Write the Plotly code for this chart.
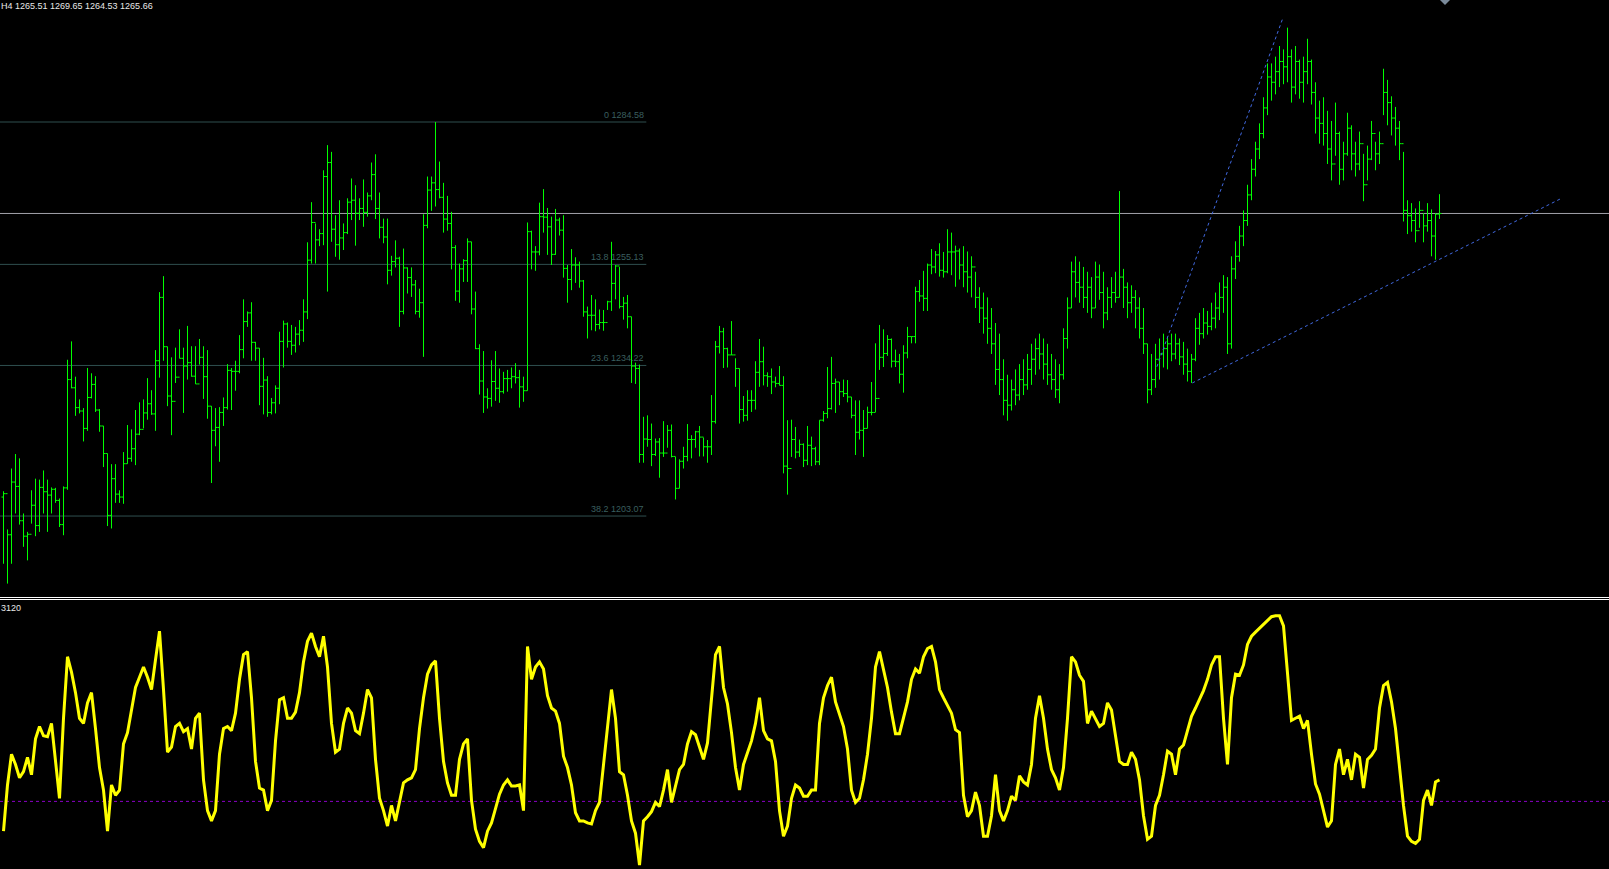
import plotly.graph_objects as go

# ---------------- data (H4 bars) ----------------
highs = [
1208.2,1200.3,1212.9,1215.9,1215.0,1203.6,1199.8,1208.4,1210.8,1210.6,
1212.5,1210.6,1209.0,1208.9,1206.7,1209.2,1235.4,1239.2,1231.9,1227.2,
1225.4,1233.7,1232.6,1232.0,1225.2,1221.7,1216.0,1213.8,1213.8,1208.4,
1216.3,1221.9,1221.0,1225.0,1226.6,1227.2,1231.6,1229.1,1237.4,1249.4,
1252.7,1238.1,1235.9,1237.9,1241.7,1237.9,1242.4,1238.2,1238.2,1239.7,
1238.2,1237.4,1225.8,1225.4,1225.6,1227.6,1234.5,1233.7,1235.2,1240.5,
1247.9,1245.4,1247.3,1239.1,1237.8,1235.8,1232.0,1227.5,1230.1,1241.2,
1243.5,1243.1,1242.6,1242.2,1243.6,1247.9,1259.7,1268.0,1263.6,1262.4,
1274.6,1279.8,1278.4,1265.3,1268.4,1263.6,1268.8,1272.9,1271.5,1268.8,
1272.7,1270.0,1276.2,1277.9,1270.0,1264.6,1264.6,1256.9,1260.1,1256.7,
1258.4,1254.5,1254.5,1251.9,1250.1,1265.5,1273.3,1273.3,1284.58,1276.4,
1272.0,1269.3,1266.0,1259.1,1255.3,1256.2,1260.5,1259.8,1249.5,1238.6,
1237.2,1229.5,1235.3,1237.2,1233.6,1232.9,1233.3,1233.8,1234.7,1233.3,
1231.9,1263.8,1262.1,1258.9,1267.9,1270.7,1266.8,1265.0,1266.6,1264.8,
1265.3,1255.0,1258.3,1256.6,1255.7,1251.9,1246.4,1248.8,1247.9,1245.8,
1245.7,1247.6,1259.8,1255.0,1254.6,1248.4,1248.8,1244.3,1234.8,1234.4,
1223.6,1223.9,1222.2,1219.1,1219.2,1222.7,1221.9,1222.0,1215.3,1214.8,
1217.4,1222.1,1219.8,1220.7,1221.7,1219.3,1218.8,1228.1,1239.3,1242.4,
1242.0,1237.9,1243.4,1235.7,1233.6,1227.9,1229.1,1229.1,1235.1,1239.7,
1238.1,1232.8,1233.6,1231.9,1234.1,1232.0,1222.9,1223.0,1221.5,1218.9,
1218.1,1221.7,1219.5,1217.4,1222.9,1224.8,1233.9,1236.0,1231.5,1230.8,
1231.3,1231.2,1227.7,1227.0,1227.0,1225.0,1225.7,1230.8,1238.8,1242.6,
1241.7,1240.5,1239.8,1237.5,1236.6,1238.4,1242.2,1240.2,1250.5,1251.9,
1253.8,1255.3,1258.3,1257.9,1259.5,1257.7,1262.4,1261.7,1259.0,1258.4,
1258.9,1257.8,1256.8,1253.6,1250.4,1249.3,1248.3,1246.1,1243.0,1240.8,
1235.5,1232.3,1231.3,1233.4,1234.5,1235.5,1236.6,1238.7,1239.8,1240.8,
1239.8,1238.7,1236.6,1235.5,1234.5,1241.9,1248.3,1255.7,1256.8,1255.7,
1254.6,1253.6,1252.5,1255.7,1255.1,1253.6,1250.4,1252.5,1253.6,1270.3,
1254.2,1251.4,1250.8,1249.8,1248.3,1246.1,1238.7,1236.6,1238.7,1239.8,
1240.8,1240.2,1240.8,1240.8,1239.8,1239.1,1237.7,1236.6,1244.0,1245.1,
1246.1,1245.5,1247.2,1249.3,1251.4,1252.9,1252.5,1256.8,1259.9,1263.1,
1266.3,1271.6,1276.9,1280.5,1284.3,1289.7,1296.7,1296.7,1298.1,1300.3,
1299.6,1304.1,1299.6,1300.3,1297.5,1298.1,1301.8,1297.5,1292.8,1289.0,
1289.7,1286.9,1284.8,1288.6,1282.6,1280.5,1286.5,1283.9,1280.5,1282.6,
1278.0,1279.7,1284.8,1280.5,1282.6,1295.6,1293.3,1289.9,1287.7,1284.8,
1278.4,1268.4,1267.8,1266.7,1268.2,1265.7,1267.8,1266.5,1265.7,1269.65,
]
lows = [
1193.2,1189.1,1193.2,1203.6,1201.3,1196.7,1193.9,1201.5,1198.9,1199.8,
1203.6,1199.8,1203.6,1205.8,1200.8,1199.1,1208.5,1229.5,1223.8,1224.3,
1218.5,1220.7,1227.4,1224.6,1220.5,1213.2,1201.0,1200.5,1205.8,1205.8,
1205.6,1213.9,1214.3,1213.6,1219.8,1221.2,1223.0,1224.0,1220.7,1231.7,
1235.2,1225.8,1219.8,1230.6,1235.7,1224.4,1231.3,1231.9,1230.4,1234.4,
1227.3,1223.2,1209.9,1217.5,1214.3,1221.7,1225.1,1225.0,1229.0,1232.6,
1235.7,1242.2,1235.2,1235.2,1226.0,1224.1,1223.6,1224.1,1224.3,1226.2,
1233.8,1237.9,1236.4,1236.9,1238.4,1239.1,1243.8,1255.3,1255.3,1258.9,
1259.1,1249.5,1259.8,1256.7,1256.1,1258.1,1261.4,1264.3,1259.0,1264.3,
1262.9,1265.0,1268.4,1264.5,1260.5,1259.5,1251.0,1252.8,1254.5,1242.2,
1244.8,1249.1,1248.4,1244.8,1244.1,1236.0,1262.6,1266.2,1267.1,1268.8,
1261.7,1262.1,1254.1,1247.6,1247.2,1251.5,1251.5,1244.8,1237.6,1228.2,
1224.4,1225.3,1225.7,1226.9,1226.5,1228.4,1228.8,1229.5,1230.5,1225.5,
1226.7,1229.0,1254.1,1253.8,1257.0,1261.7,1257.1,1255.0,1257.1,1261.1,
1252.4,1247.2,1249.8,1251.3,1250.3,1244.3,1239.8,1241.5,1241.3,1241.7,
1241.4,1245.7,1245.5,1247.9,1246.0,1243.7,1241.9,1230.6,1230.4,1214.1,
1214.1,1217.4,1213.4,1215.5,1211.0,1215.3,1217.2,1215.2,1206.5,1208.8,
1212.9,1214.4,1215.0,1217.2,1215.4,1215.4,1214.1,1215.7,1222.2,1236.7,
1233.7,1233.8,1236.4,1229.8,1222.2,1222.6,1222.8,1224.6,1225.1,1229.8,
1230.1,1229.8,1228.3,1229.7,1230.1,1211.9,1207.5,1215.3,1215.0,1215.3,
1213.2,1213.6,1213.4,1213.6,1213.6,1222.6,1223.3,1225.1,1224.4,1226.0,
1227.7,1226.6,1223.3,1215.7,1218.9,1215.3,1221.2,1223.9,1224.6,1233.3,
1233.9,1236.2,1233.8,1233.9,1230.5,1228.6,1235.7,1238.8,1238.8,1247.4,
1245.5,1245.5,1253.1,1253.3,1252.6,1252.4,1253.3,1252.9,1250.5,1252.0,
1250.4,1249.3,1248.3,1246.1,1243.0,1240.8,1238.7,1236.6,1230.2,1228.1,
1223.9,1222.8,1224.9,1226.0,1227.0,1228.1,1229.2,1230.2,1232.3,1233.4,
1231.3,1230.2,1229.2,1227.5,1226.4,1231.3,1237.7,1246.1,1248.3,1247.2,
1246.1,1245.1,1244.0,1246.1,1247.8,1241.9,1243.6,1246.1,1247.2,1248.3,
1246.1,1244.0,1245.1,1241.9,1239.8,1236.6,1226.4,1228.1,1229.6,1231.3,
1233.8,1233.4,1235.1,1235.5,1234.3,1232.3,1230.9,1230.6,1235.1,1238.5,
1239.8,1240.6,1241.5,1241.9,1243.6,1245.1,1236.6,1237.7,1252.1,1255.7,
1258.9,1263.1,1268.4,1273.3,1276.9,1281.2,1286.0,1289.0,1290.3,1291.8,
1292.4,1292.8,1288.6,1290.3,1289.4,1288.6,1292.4,1288.2,1282.2,1280.1,
1279.7,1275.9,1272.5,1277.6,1271.6,1272.5,1277.6,1274.6,1273.3,1274.6,
1268.2,1272.5,1276.7,1274.6,1275.9,1286.0,1283.9,1281.8,1279.7,1276.7,
1264.0,1261.4,1261.9,1259.7,1262.7,1259.7,1261.9,1256.8,1256.1,1264.53,
]
closes = [
1207.7,1199.2,1210.1,1209.2,1202.1,1198.9,1199.3,1205.3,1201.1,1209.0,
1208.1,1207.4,1208.6,1206.3,1201.3,1208.9,1231.3,1229.6,1225.5,1224.8,
1221.2,1227.6,1230.3,1225.0,1221.7,1216.0,1203.2,1210.8,1207.6,1207.0,
1213.9,1215.0,1217.0,1220.0,1221.0,1224.4,1226.3,1224.2,1235.2,1248.3,
1238.1,1227.9,1226.8,1231.8,1235.7,1234.1,1234.8,1232.0,1230.4,1235.9,
1231.9,1225.8,1220.8,1221.4,1224.5,1225.5,1233.2,1233.0,1233.0,1237.5,
1243.3,1245.1,1239.0,1237.8,1229.9,1231.2,1224.5,1226.5,1229.5,1239.2,
1242.8,1239.2,1238.4,1240.7,1241.5,1245.3,1256.0,1263.8,1260.2,1261.5,
1273.3,1276.2,1262.4,1259.2,1260.6,1261.7,1268.0,1268.4,1265.7,1266.7,
1265.9,1269.3,1273.7,1266.7,1262.8,1260.8,1253.9,1255.7,1256.4,1245.4,
1254.4,1252.4,1250.9,1245.4,1247.2,1263.2,1270.5,1272.0,1270.6,1269.0,
1264.5,1263.6,1258.6,1249.6,1254.2,1255.9,1259.8,1245.9,1237.7,1231.0,
1227.7,1227.4,1230.9,1229.5,1228.8,1231.5,1231.5,1231.9,1231.7,1229.8,
1229.0,1261.9,1257.7,1257.7,1265.0,1264.9,1262.9,1257.2,1264.3,1262.2,
1254.3,1252.0,1255.0,1255.0,1251.7,1245.3,1244.6,1244.6,1242.7,1243.1,
1243.1,1247.4,1251.2,1254.8,1246.4,1247.1,1244.3,1234.1,1233.6,1215.8,
1219.0,1218.9,1215.8,1218.4,1216.1,1216.1,1220.8,1215.4,1208.8,1214.4,
1215.4,1218.9,1218.9,1220.5,1219.4,1217.4,1217.4,1222.6,1238.1,1241.2,
1237.7,1236.4,1236.4,1233.6,1225.1,1223.9,1227.0,1227.0,1232.8,1235.0,
1232.1,1231.9,1230.8,1230.5,1230.1,1213.4,1212.9,1218.9,1216.3,1217.9,
1214.6,1217.7,1217.0,1214.3,1222.9,1224.3,1225.3,1230.5,1230.8,1228.8,
1228.4,1227.7,1223.9,1220.4,1220.8,1221.2,1224.5,1224.5,1227.4,1235.9,
1236.7,1239.6,1235.1,1235.0,1232.4,1236.8,1240.2,1240.2,1249.5,1248.6,
1248.1,1255.0,1254.6,1257.1,1253.9,1253.6,1257.7,1257.7,1257.9,1255.0,
1253.6,1252.5,1254.6,1248.3,1246.1,1244.0,1241.9,1238.7,1233.4,1231.3,
1227.0,1226.0,1229.2,1228.1,1231.3,1230.2,1233.4,1235.5,1237.7,1236.6,
1234.5,1232.3,1231.3,1229.2,1232.3,1239.8,1246.1,1253.6,1251.4,1250.4,
1248.3,1250.4,1246.1,1252.5,1249.3,1245.1,1248.3,1249.3,1248.3,1252.5,
1250.4,1247.2,1248.3,1246.1,1241.9,1238.7,1229.2,1231.3,1235.5,1236.6,
1237.7,1238.7,1236.6,1238.7,1236.0,1234.5,1233.0,1235.5,1241.9,1240.8,
1243.0,1242.3,1244.0,1246.1,1248.3,1250.4,1238.7,1254.2,1256.8,1261.0,
1264.2,1269.5,1274.8,1279.0,1282.2,1287.5,1293.9,1292.8,1295.0,1297.1,
1296.0,1298.1,1291.8,1297.1,1292.8,1295.0,1297.1,1290.7,1285.4,1284.3,
1282.2,1279.0,1275.9,1282.2,1274.8,1278.0,1283.3,1278.0,1275.9,1280.1,
1271.6,1276.9,1282.2,1278.0,1280.1,1290.7,1288.6,1285.4,1283.3,1280.1,
1266.3,1265.2,1264.2,1262.1,1266.3,1263.1,1264.2,1261.0,1265.51,1265.66,
]
first_open = 1207.0
opens = [first_open] + closes[:-1]

# oscillator in the lower window (zero = dotted level)
osc = [
-29,16,46,36,23,29,43,26,61,73,64,63,76,36,3,81,141,126,106,81,
76,96,106,71,33,11,-29,16,6,11,56,67,89,111,121,131,121,109,138,166,
109,48,53,73,76,68,71,51,81,86,21,-9,-19,-9,46,71,73,69,86,119,
143,146,101,39,13,11,-9,1,59,99,101,81,81,87,106,136,156,164,151,141,
161,131,76,48,51,76,91,86,69,66,86,109,101,41,3,-9,-24,-4,-19,1,
18,21,23,31,71,101,124,133,137,81,39,18,6,6,41,56,61,1,-27,-39,
-45,-29,-21,-7,7,16,21,15,15,16,-9,151,119,131,136,129,103,91,88,76,
44,33,16,-11,-19,-19,-21,-22,-9,-1,36,76,109,81,29,26,6,-19,-31,-62,
-19,-15,-10,-1,-5,11,31,-1,15,31,36,56,68,65,53,41,57,103,143,151,
111,95,67,33,11,36,48,59,76,101,69,61,59,39,-9,-34,-24,3,16,13,
5,5,11,11,76,101,113,121,97,85,73,51,11,-1,3,21,46,81,131,146,
127,111,87,66,66,81,97,119,129,125,141,149,151,136,109,101,93,86,70,67,
6,-15,-9,9,-4,-34,-34,-14,26,-9,-19,-9,5,1,25,19,16,36,81,103,
81,51,31,23,11,33,81,141,136,123,117,76,88,81,73,76,96,89,65,39,
36,36,48,41,21,-14,-37,-34,-4,6,26,49,46,26,51,55,69,83,91,99,
108,119,133,141,141,81,36,101,124,123,133,153,161,165,169,173,176,180,181,181,
171,121,79,81,83,71,79,46,17,7,-9,-25,-19,36,51,26,41,21,46,43,
13,41,45,51,91,113,116,97,71,31,-4,-34,-39,-41,-37,1,11,-4,19,21,
]
osc_level = 0

fib_pct = ["0", "13.8", "23.6", "38.2"]
fib_price = [1284.58, 1255.13, 1234.22, 1203.07]
fib_end_bar = 160.7

last_quote = ["1265.51", "1269.65", "1264.53", "1265.66"]
bid_price = 1265.66

trend1_x = [288.35, 319.8]
trend1_y = [1233.96, 1305.99]
trend2_x = [297.2, 389.1]
trend2_y = [1230.6, 1268.63]

# ---------------- figure ----------------
W, H = 1609, 869
BAR = "#00FF00"
FIB = "#2F4F4F"
X0, X1 = -0.875, 401.375   # 4 px per bar, bar centres on pixel centres

fig = go.Figure()
idx = list(range(len(closes)))
fig.add_trace(go.Ohlc(
    x=idx, open=opens, high=highs, low=lows, close=closes,
    increasing=dict(line=dict(color=BAR, width=1)),
    decreasing=dict(line=dict(color=BAR, width=1)),
    tickwidth=0.5, hoverinfo="skip", xaxis="x", yaxis="y", showlegend=False))

fig.add_trace(go.Scatter(
    x=list(range(len(osc))), y=osc, mode="lines",
    line=dict(color="#FFFF00", width=3), hoverinfo="skip",
    xaxis="x2", yaxis="y2", showlegend=False))

for tx, ty in ((trend1_x, trend1_y), (trend2_x, trend2_y)):
    fig.add_trace(go.Scatter(x=tx, y=ty, mode="lines",
                             line=dict(color="#4169E1", width=1, dash="dot"),
                             hoverinfo="skip", xaxis="x", yaxis="y", showlegend=False))

shapes = []
annots = []
for p, v in zip(fib_pct, fib_price):
    shapes.append(dict(type="line", xref="x", yref="y", x0=X0, x1=fib_end_bar, y0=v, y1=v,
                       line=dict(color=FIB, width=1), layer="below"))
    annots.append(dict(xref="x", yref="y", x=fib_end_bar, y=v, xanchor="right", yanchor="middle",
                       yshift=7, text=f"{p} {v:.2f}", showarrow=False,
                       font=dict(family="Liberation Sans", size=9, color="#3A5F5F")))

shapes.append(dict(type="line", xref="paper", yref="y", x0=0, x1=1, y0=bid_price, y1=bid_price,
                   line=dict(color="#A0A0A8", width=1), layer="below"))
# separator between the two windows: two crisp 1 px white lines
for yy in (597, 599):
    shapes.append(dict(type="rect", xref="paper", yref="paper", x0=0, x1=1,
                       y0=1 - (yy + 1) / H, y1=1 - yy / H,
                       fillcolor="#FFFFFF", line=dict(width=0)))
shapes.append(dict(type="line", xref="paper", yref="y2", x0=0, x1=1, y0=osc_level, y1=osc_level,
                   line=dict(color="#8B00C8", width=1, dash="dot"), layer="below"))
# chart-shift marker at the top right
tx0 = 1445
shapes.append(dict(type="path", xref="paper", yref="paper",
                   path=f"M {(tx0-5)/W},{1} L {(tx0+5)/W},{1} L {tx0/W},{1-5/H} Z",
                   fillcolor="#7A8A9A", line=dict(width=0)))

annots.append(dict(xref="paper", yref="paper", x=0, y=1, xanchor="left", yanchor="top",
                   xshift=-1, yshift=1, showarrow=False,
                   text="H4 " + " ".join(last_quote),
                   font=dict(family="Liberation Sans", size=9, color="#E8E8E8")))
annots.append(dict(xref="paper", yref="paper", x=0, y=1 - 601 / H, xanchor="left", yanchor="top",
                   xshift=-1, showarrow=False, text="3120",
                   font=dict(family="Liberation Sans", size=9, color="#E8E8E8")))

fig.update_layout(
    width=W, height=H, margin=dict(l=0, r=0, t=0, b=0),
    paper_bgcolor="#000000", plot_bgcolor="#000000",
    showlegend=False, hovermode=False,
    shapes=shapes, annotations=annots,
    xaxis=dict(range=[X0, X1], visible=False, rangeslider=dict(visible=False), domain=[0, 1]),
    xaxis2=dict(range=[X0, X1], visible=False, matches="x", anchor="y2", domain=[0, 1]),
    yaxis=dict(range=[1186.53, 1309.82], domain=[1 - 596 / H, 1], visible=False),
    yaxis2=dict(range=[-65.9, 196.3], domain=[0, 1 - 600 / H], visible=False, anchor="x2"),
)

fig.write_html("out.html", config=dict(displayModeBar=False),
               post_script="document.body.style.margin='0';document.body.style.background='#000';")
